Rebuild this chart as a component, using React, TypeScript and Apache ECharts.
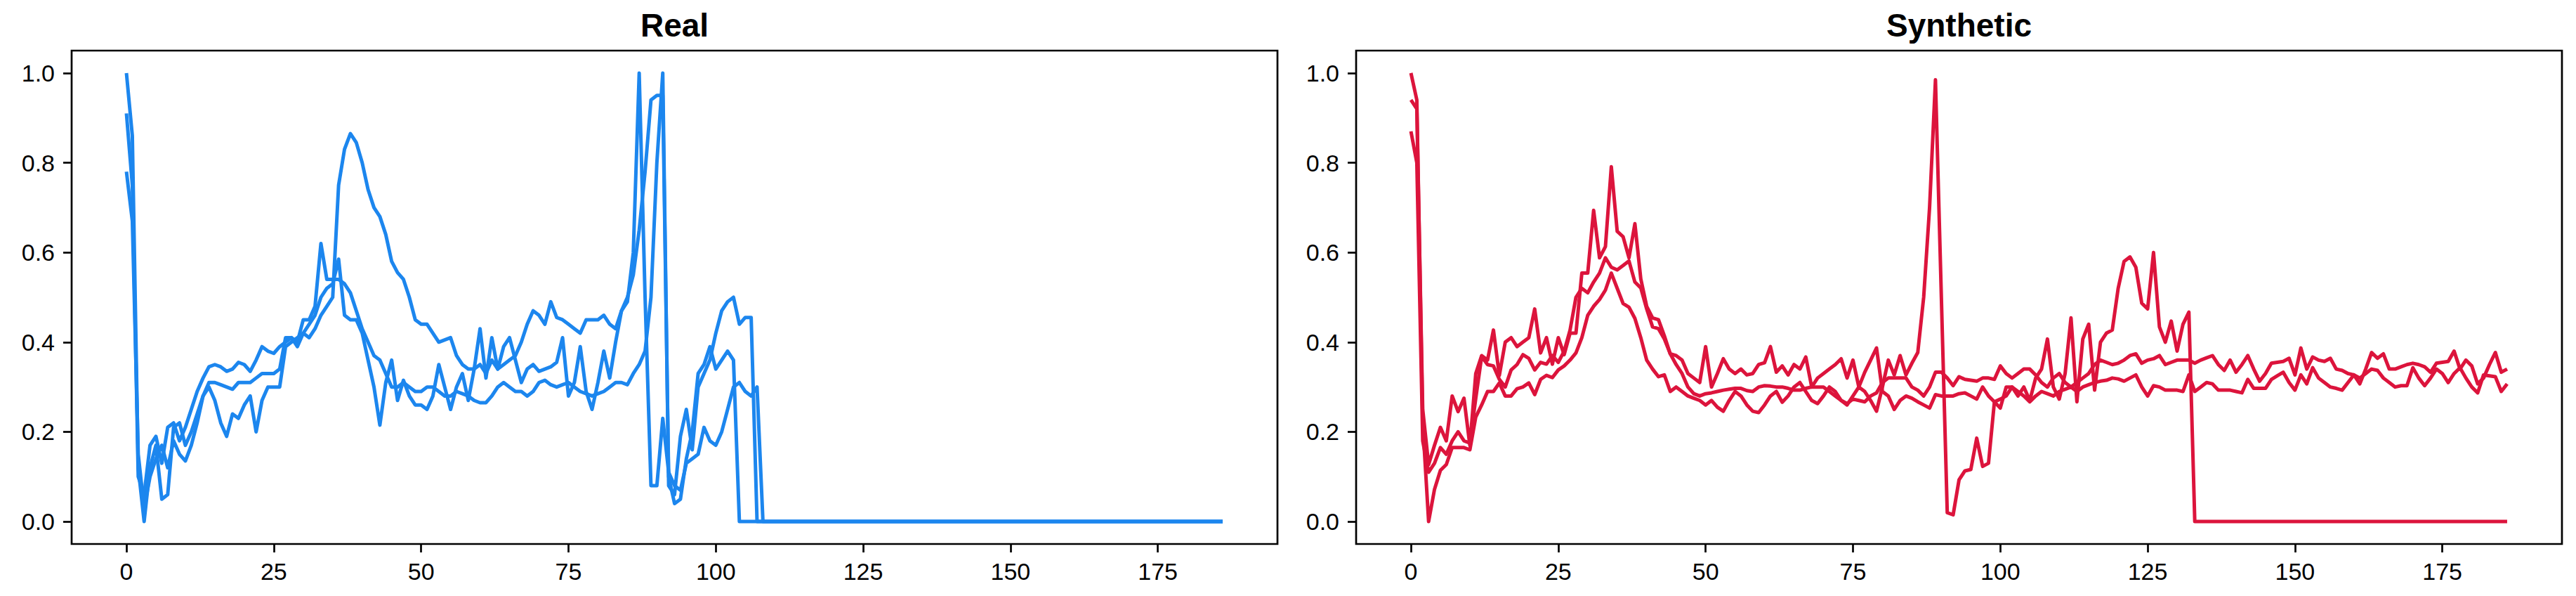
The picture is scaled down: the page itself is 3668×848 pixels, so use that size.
import React, { useEffect, useRef } from "react";
import * as echarts from "echarts";

// ---------- data ----------
const xTicks = [0, 25, 50, 75, 100, 125, 150, 175];
const yTicks = [0, 0.2, 0.4, 0.6, 0.8, 1.0];
const titles = ["Real", "Synthetic"];

const realA = [
  0.91, 0.75, 0.10, 0.06, 0.17, 0.19, 0.13, 0.21, 0.22, 0.18,
  0.21, 0.25, 0.29, 0.32, 0.345, 0.35, 0.345, 0.335, 0.34, 0.355,
  0.35, 0.335, 0.36, 0.39, 0.38, 0.375, 0.39, 0.40, 0.41, 0.40,
  0.45, 0.45, 0.48, 0.62, 0.54, 0.54, 0.54, 0.53, 0.51, 0.47,
  0.43, 0.40, 0.37, 0.36, 0.33, 0.30, 0.30, 0.31, 0.30, 0.29,
  0.29, 0.30, 0.30, 0.29, 0.28, 0.28, 0.29, 0.285, 0.28, 0.27,
  0.265, 0.265, 0.28, 0.30, 0.31, 0.30, 0.29, 0.29, 0.28, 0.29,
  0.31, 0.315, 0.305, 0.30, 0.305, 0.31, 0.30, 0.29, 0.285, 0.28,
  0.285, 0.29, 0.30, 0.31, 0.31, 0.305, 0.33, 0.35, 0.38, 0.50,
  0.80, 1.00, 0.08, 0.06, 0.19, 0.25, 0.16, 0.30, 0.33, 0.36,
  0.42, 0.47, 0.49, 0.50, 0.44, 0.455, 0.455, 0, 0, 0,
  0, 0, 0, 0, 0, 0, 0, 0, 0, 0,
  0, 0, 0, 0, 0, 0, 0, 0, 0, 0,
  0, 0, 0, 0, 0, 0, 0, 0, 0, 0,
  0, 0, 0, 0, 0, 0, 0, 0, 0, 0,
  0, 0, 0, 0, 0, 0, 0, 0, 0, 0,
  0, 0, 0, 0, 0, 0, 0, 0, 0, 0,
  0, 0, 0, 0, 0, 0, 0, 0, 0, 0,
  0, 0, 0, 0, 0, 0, 0,
];

const realB = [
  0.78, 0.67, 0.15, 0.03, 0.10, 0.14, 0.17, 0.12, 0.18, 0.15,
  0.135, 0.17, 0.22, 0.28, 0.31, 0.31, 0.305, 0.30, 0.295, 0.31,
  0.31, 0.31, 0.32, 0.33, 0.33, 0.33, 0.34, 0.41, 0.41, 0.39,
  0.42, 0.41, 0.43, 0.46, 0.48, 0.50, 0.75, 0.83, 0.865, 0.845,
  0.80, 0.74, 0.70, 0.68, 0.64, 0.58, 0.555, 0.54, 0.50, 0.45,
  0.44, 0.44, 0.42, 0.40, 0.405, 0.41, 0.37, 0.35, 0.34, 0.34,
  0.35, 0.33, 0.36, 0.34, 0.35, 0.36, 0.37, 0.40, 0.44, 0.47,
  0.46, 0.44, 0.49, 0.455, 0.45, 0.44, 0.43, 0.42, 0.45, 0.45,
  0.45, 0.46, 0.44, 0.43, 0.47, 0.49, 0.60, 1.00, 0.50, 0.08,
  0.08, 0.23, 0.11, 0.08, 0.07, 0.13, 0.14, 0.15, 0.21, 0.18,
  0.17, 0.20, 0.25, 0.30, 0.31, 0.29, 0.28, 0.30, 0, 0,
  0, 0, 0, 0, 0, 0, 0, 0, 0, 0,
  0, 0, 0, 0, 0, 0, 0, 0, 0, 0,
  0, 0, 0, 0, 0, 0, 0, 0, 0, 0,
  0, 0, 0, 0, 0, 0, 0, 0, 0, 0,
  0, 0, 0, 0, 0, 0, 0, 0, 0, 0,
  0, 0, 0, 0, 0, 0, 0, 0, 0, 0,
  0, 0, 0, 0, 0, 0, 0, 0, 0, 0,
  0, 0, 0, 0, 0, 0, 0,
];

const realC = [
  1.00, 0.86, 0.12, 0.00, 0.12, 0.17, 0.05, 0.06, 0.21, 0.22,
  0.17, 0.20, 0.24, 0.28, 0.30, 0.27, 0.22, 0.19, 0.24, 0.23,
  0.26, 0.28, 0.20, 0.27, 0.30, 0.30, 0.30, 0.39, 0.40, 0.41,
  0.42, 0.44, 0.46, 0.50, 0.52, 0.53, 0.585, 0.46, 0.45, 0.45,
  0.42, 0.36, 0.30, 0.215, 0.31, 0.36, 0.27, 0.315, 0.28, 0.26,
  0.26, 0.25, 0.28, 0.35, 0.30, 0.25, 0.30, 0.33, 0.27, 0.34,
  0.43, 0.32, 0.41, 0.34, 0.39, 0.41, 0.36, 0.31, 0.34, 0.35,
  0.335, 0.34, 0.345, 0.355, 0.41, 0.28, 0.31, 0.39, 0.29, 0.25,
  0.31, 0.38, 0.32, 0.40, 0.47, 0.50, 0.55, 0.65, 0.78, 0.94,
  0.95, 0.95, 0.10, 0.04, 0.05, 0.14, 0.20, 0.33, 0.35, 0.39,
  0.34, 0.36, 0.38, 0.36, 0, 0, 0, 0, 0, 0,
  0, 0, 0, 0, 0, 0, 0, 0, 0, 0,
  0, 0, 0, 0, 0, 0, 0, 0, 0, 0,
  0, 0, 0, 0, 0, 0, 0, 0, 0, 0,
  0, 0, 0, 0, 0, 0, 0, 0, 0, 0,
  0, 0, 0, 0, 0, 0, 0, 0, 0, 0,
  0, 0, 0, 0, 0, 0, 0, 0, 0, 0,
  0, 0, 0, 0, 0, 0, 0, 0, 0, 0,
  0, 0, 0, 0, 0, 0, 0,
];

const synA = [
  1.00, 0.94, 0.22, 0.00, 0.072, 0.114, 0.127, 0.165, 0.165, 0.165,
  0.16, 0.233, 0.26, 0.29, 0.29, 0.309, 0.28, 0.28, 0.296, 0.30,
  0.309, 0.283, 0.317, 0.326, 0.321, 0.338, 0.347, 0.36, 0.376, 0.41,
  0.46, 0.48, 0.495, 0.516, 0.554, 0.52, 0.486, 0.478, 0.453, 0.41,
  0.36, 0.34, 0.323, 0.327, 0.29, 0.30, 0.29, 0.28, 0.275, 0.27,
  0.26, 0.27, 0.255, 0.246, 0.27, 0.29, 0.28, 0.26, 0.246, 0.243,
  0.26, 0.28, 0.29, 0.266, 0.28, 0.30, 0.31, 0.29, 0.27, 0.263,
  0.28, 0.30, 0.29, 0.27, 0.26, 0.28, 0.30, 0.29, 0.27, 0.246,
  0.30, 0.36, 0.327, 0.37, 0.327, 0.353, 0.377, 0.50, 0.70, 0.985,
  0.50, 0.02, 0.015, 0.093, 0.113, 0.116, 0.186, 0.123, 0.13, 0.267,
  0.273, 0.28, 0.30, 0.29, 0.28, 0.267, 0.28, 0.29, 0.285, 0.28,
  0.29, 0.295, 0.30, 0.29, 0.30, 0.305, 0.31, 0.313, 0.315, 0.32,
  0.318, 0.313, 0.32, 0.327, 0.30, 0.28, 0.303, 0.30, 0.293, 0.293,
  0.293, 0.29, 0.327, 0.29, 0.30, 0.31, 0.307, 0.293, 0.293, 0.293,
  0.29, 0.287, 0.317, 0.297, 0.297, 0.297, 0.317, 0.325, 0.333, 0.31,
  0.293, 0.327, 0.307, 0.343, 0.32, 0.31, 0.30, 0.297, 0.293, 0.31,
  0.327, 0.32, 0.33, 0.34, 0.337, 0.32, 0.31, 0.30, 0.303, 0.303,
  0.343, 0.32, 0.303, 0.32, 0.34, 0.33, 0.31, 0.33, 0.343, 0.32,
  0.30, 0.287, 0.327, 0.325, 0.323, 0.29, 0.307,
];

const synB = [
  0.94, 0.92, 0.25, 0.127, 0.17, 0.21, 0.18, 0.28, 0.245, 0.275,
  0.17, 0.33, 0.37, 0.36, 0.427, 0.326, 0.40, 0.41, 0.39, 0.40,
  0.41, 0.474, 0.376, 0.41, 0.351, 0.41, 0.372, 0.42, 0.42, 0.554,
  0.554, 0.694, 0.588, 0.613, 0.791, 0.647, 0.635, 0.588, 0.664, 0.541,
  0.48, 0.454, 0.45, 0.414, 0.374, 0.37, 0.36, 0.33, 0.32, 0.31,
  0.39, 0.30, 0.33, 0.363, 0.34, 0.33, 0.34, 0.327, 0.33, 0.35,
  0.354, 0.39, 0.333, 0.347, 0.327, 0.35, 0.34, 0.367, 0.30, 0.32,
  0.33, 0.34, 0.35, 0.363, 0.32, 0.36, 0.30, 0.333, 0.36, 0.387,
  0.29, 0.28, 0.25, 0.27, 0.28, 0.275, 0.267, 0.26, 0.253, 0.283,
  0.28, 0.28, 0.28, 0.285, 0.287, 0.28, 0.273, 0.30, 0.28, 0.267,
  0.253, 0.30, 0.30, 0.28, 0.30, 0.27, 0.32, 0.34, 0.407, 0.30,
  0.273, 0.33, 0.454, 0.267, 0.407, 0.44, 0.293, 0.40, 0.42, 0.427,
  0.52, 0.58, 0.59, 0.567, 0.487, 0.474, 0.60, 0.434, 0.40, 0.447,
  0.38, 0.44, 0.467, 0, 0, 0, 0, 0, 0, 0,
  0, 0, 0, 0, 0, 0, 0, 0, 0, 0,
  0, 0, 0, 0, 0, 0, 0, 0, 0, 0,
  0, 0, 0, 0, 0, 0, 0, 0, 0, 0,
  0, 0, 0, 0, 0, 0, 0, 0, 0, 0,
  0, 0, 0, 0, 0, 0, 0,
];

const synC = [
  0.87, 0.80, 0.18, 0.11, 0.13, 0.165, 0.15, 0.18, 0.20, 0.18,
  0.175, 0.275, 0.368, 0.35, 0.347, 0.317, 0.30, 0.338, 0.35, 0.372,
  0.364, 0.338, 0.355, 0.351, 0.37, 0.355, 0.38, 0.427, 0.50, 0.52,
  0.51, 0.534, 0.554, 0.588, 0.567, 0.561, 0.571, 0.581, 0.534, 0.521,
  0.474, 0.434, 0.43, 0.407, 0.374, 0.35, 0.33, 0.30, 0.285, 0.28,
  0.285, 0.287, 0.29, 0.293, 0.295, 0.297, 0.297, 0.292, 0.29, 0.30,
  0.303, 0.302, 0.30, 0.30, 0.297, 0.293, 0.293, 0.297, 0.30, 0.30,
  0.30, 0.29, 0.28, 0.27, 0.263, 0.273, 0.27, 0.267, 0.28, 0.287,
  0.31, 0.32, 0.32, 0.32, 0.32, 0.30, 0.293, 0.28, 0.30, 0.333,
  0.333, 0.32, 0.303, 0.323, 0.317, 0.315, 0.313, 0.32, 0.32, 0.317,
  0.347, 0.33, 0.32, 0.33, 0.34, 0.34, 0.327, 0.31, 0.30, 0.32,
  0.33, 0.31, 0.30, 0.31, 0.32, 0.33, 0.35, 0.36, 0.355, 0.35,
  0.353, 0.36, 0.37, 0.374, 0.353, 0.36, 0.363, 0.37, 0.35, 0.355,
  0.36, 0.36, 0.36, 0.353, 0.36, 0.365, 0.37, 0.35, 0.337, 0.36,
  0.333, 0.35, 0.37, 0.34, 0.313, 0.33, 0.353, 0.355, 0.357, 0.364,
  0.327, 0.387, 0.34, 0.367, 0.36, 0.357, 0.364, 0.34, 0.337, 0.33,
  0.327, 0.307, 0.34, 0.377, 0.364, 0.374, 0.34, 0.34, 0.345, 0.35,
  0.353, 0.35, 0.345, 0.333, 0.353, 0.355, 0.357, 0.38, 0.34, 0.36,
  0.347, 0.307, 0.32, 0.35, 0.377, 0.333, 0.34,
];

const realSeries = [realA, realB, realC];
const synSeries = [synA, synB, synC];

// ---------- styles ----------
const W = 3668;
const H = 848;
const BLUE = "#1c86ee";
const RED = "#dc143c";
const FONT = "'Liberation Sans', Arial, sans-serif";
const GRID_TOP = 72;
const GRID_H = 702;
const GRID_W = 1717;
const GRID_LEFTS = [102, 1931];

export default function App() {
  const ref = useRef<HTMLDivElement>(null);

  useEffect(() => {
    if (!ref.current) return;
    const chart = echarts.init(ref.current, null, { renderer: "svg", width: W, height: H });

    const grids = GRID_LEFTS.map((left) => ({
      left,
      top: GRID_TOP,
      width: GRID_W,
      height: GRID_H,
      show: true,
      borderColor: "#000",
      borderWidth: 2.7,
      backgroundColor: "#fff",
      containLabel: false,
    }));

    const tickStyle = { color: "#000", width: 2.7 };
    const xAxes = [0, 1].map((g) => ({
      gridIndex: g,
      type: "value",
      position: "bottom",
      min: -9.3,
      max: 195.3,
      axisLine: { show: false, onZero: false },
      splitLine: { show: false },
      axisTick: { show: true, inside: false, length: 12, lineStyle: tickStyle, customValues: xTicks },
      axisLabel: {
        show: true,
        customValues: xTicks,
        margin: 22,
        color: "#000",
        fontSize: 34,
        fontFamily: FONT,
        formatter: (v: number) => String(Math.round(v)),
      },
    }));
    const yAxes = [0, 1].map((g) => ({
      gridIndex: g,
      type: "value",
      position: "left",
      min: -0.05,
      max: 1.05,
      axisLine: { show: false, onZero: false },
      splitLine: { show: false },
      axisTick: { show: true, inside: false, length: 12, lineStyle: tickStyle, customValues: yTicks },
      axisLabel: {
        show: true,
        customValues: yTicks,
        margin: 24,
        color: "#000",
        fontSize: 34,
        fontFamily: FONT,
        formatter: (v: number) => v.toFixed(1),
      },
    }));

    const mk = (arr: number[], g: number, color: string, k: number) => ({
      type: "line",
      xAxisIndex: g,
      yAxisIndex: g,
      data: arr.map((v, i) => [i, v]),
      showSymbol: false,
      symbol: "none",
      silent: true,
      z: 2 + k,
      lineStyle: { color, width: 5, join: "round" },
      itemStyle: { color },
    });

    const series = [
      ...realSeries.map((a, k) => mk(a, 0, BLUE, k)),
      ...synSeries.map((a, k) => mk(a, 1, RED, k)),
    ];

    const graphic = GRID_LEFTS.map((left, k) => ({
      type: "text",
      x: left + GRID_W / 2,
      y: 36,
      style: {
        text: titles[k],
        font: `bold 46px ${FONT}`,
        fill: "#000",
        align: "center",
        verticalAlign: "middle",
      },
    }));

    chart.setOption({
      animation: false,
      backgroundColor: "#fff",
      grid: grids,
      xAxis: xAxes,
      yAxis: yAxes,
      series,
      graphic,
    });

    return () => chart.dispose();
  }, []);

  return (
    <div
      ref={ref}
      style={{ position: "fixed", left: 0, top: 0, width: W, height: H, background: "#fff" }}
    />
  );
}
